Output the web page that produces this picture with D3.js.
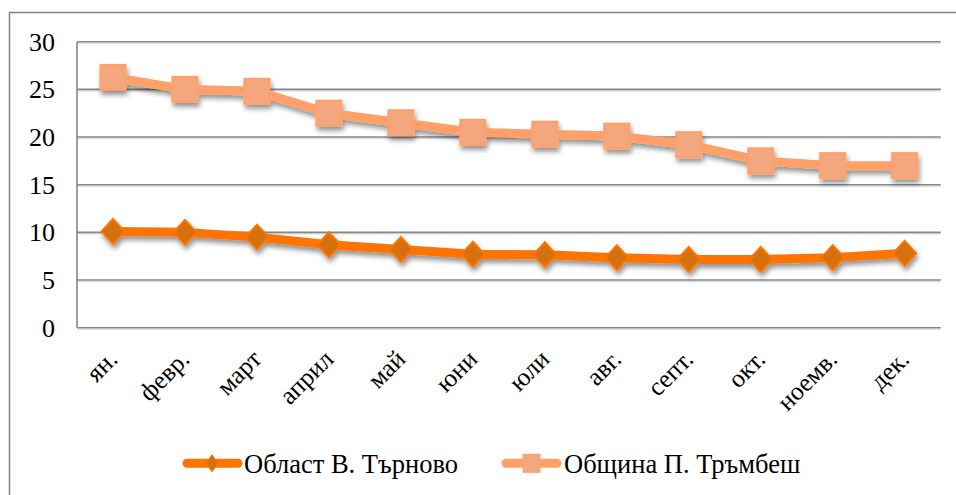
<!DOCTYPE html>
<html><head><meta charset="utf-8">
<script src="https://cdn.jsdelivr.net/npm/d3@7/dist/d3.min.js"></script>
<style>
html,body{margin:0;padding:0;background:#fff;}
svg{display:block;}
text{font-family:"Liberation Serif","Times New Roman",serif;fill:#000;}
</style></head>
<body>
<script>
const categories = ["ян.","февр.","март","април","май","юни","юли","авг.","септ.","окт.","ноемв.","дек."];
const oblast = [10.1, 10.0, 9.5, 8.7, 8.2, 7.7, 7.65, 7.35, 7.15, 7.15, 7.35, 7.8];
const trumbesh = [26.25, 25.0, 24.8, 22.5, 21.5, 20.5, 20.3, 20.1, 19.2, 17.5, 17.0, 17.0];
const yTicks = [0, 5, 10, 15, 20, 25, 30];
const seriesNames = ["Област В. Търново", "Община П. Тръмбеш"];

const W = 956, H = 495;
const plot = {left: 77, right: 940.7, top: 41.7, bottom: 327.7};

const svg = d3.select("body").append("svg").attr("width", W).attr("height", H);
const defs = svg.append("defs");
const f = defs.append("filter").attr("id","shadow").attr("x","-20%").attr("y","-50%").attr("width","140%").attr("height","200%");
f.append("feDropShadow").attr("dx",1.5).attr("dy",4).attr("stdDeviation",2.4)
  .attr("flood-color","#000").attr("flood-opacity",0.42);

// outer border
svg.append("rect").attr("x",9.5).attr("y",12.5).attr("width",970).attr("height",520)
  .attr("fill","none").attr("stroke","#8a8a8a").attr("stroke-width",1.6);

const x = d3.scaleBand().domain(categories).range([plot.left, plot.right]);
const y = d3.scaleLinear().domain([0,30]).range([plot.bottom, plot.top]);
const cx = d => x(d) + x.bandwidth()/2;

// gridlines
const grid = svg.append("g");
yTicks.forEach(t => {
  grid.append("line").attr("x1",plot.left).attr("x2",plot.right)
    .attr("y1",y(t)+1.6).attr("y2",y(t)+1.6).attr("stroke","#dcdcdc").attr("stroke-width",1.2);
  grid.append("line").attr("x1",plot.left).attr("x2",plot.right)
    .attr("y1",y(t)).attr("y2",y(t)).attr("stroke","#868686").attr("stroke-width",1.6);
});
grid.append("line").attr("x1",plot.left).attr("x2",plot.left)
  .attr("y1",plot.top).attr("y2",plot.bottom).attr("stroke","#868686").attr("stroke-width",1.6);

// y axis labels
const yAxis = d3.axisLeft(y).tickValues(yTicks).tickSize(0).tickPadding(22);
const yg = svg.append("g").attr("transform",`translate(${plot.left},0)`).call(yAxis);
yg.select(".domain").remove();
yg.selectAll("text").attr("font-size","26px").attr("font-family","Liberation Serif").attr("fill","#000");

// x axis labels
const xAxis = d3.axisBottom(x).tickSize(0).tickPadding(0);
const xg = svg.append("g").attr("transform",`translate(0,${plot.bottom})`).call(xAxis);
xg.select(".domain").remove();
xg.selectAll(".tick text")
  .attr("font-size","25.5px").attr("font-family","Liberation Serif").attr("fill","#000")
  .attr("text-anchor","end").attr("dy",0).attr("y",0)
  .attr("transform","translate(6,33) rotate(-45)");

const line = d3.line().x((d,i)=>cx(categories[i])).y(d=>y(d));

const colors = {
  oblastLine: "#ff7300", oblastFill: "#d46f0a",
  trLine: "#ffa068", trFill: "#f4a77e"
};

const diamond = (w,h) => `M0,${-h}L${w},0L0,${h}L${-w},0Z`;

// Oblast series
const g1 = svg.append("g").attr("filter","url(#shadow)");
g1.append("path").datum(oblast).attr("d",line).attr("fill","none")
  .attr("stroke",colors.oblastLine).attr("stroke-width",9).attr("stroke-linejoin","round");
g1.selectAll("path.m").data(oblast).join("path").attr("class","m")
  .attr("transform",(d,i)=>`translate(${cx(categories[i])},${y(d)})`)
  .attr("d",diamond(11.5,12.5)).attr("fill",colors.oblastFill)
  .attr("stroke",colors.oblastLine).attr("stroke-width",2);

// Trumbesh series
const g2 = svg.append("g").attr("filter","url(#shadow)");
g2.append("path").datum(trumbesh).attr("d",line).attr("fill","none")
  .attr("stroke",colors.trLine).attr("stroke-width",9).attr("stroke-linejoin","round");
g2.selectAll("rect.m").data(trumbesh).join("rect").attr("class","m")
  .attr("x",(d,i)=>cx(categories[i])-12.5).attr("y",d=>y(d)-12.5)
  .attr("width",25).attr("height",25).attr("fill",colors.trFill)
  .attr("stroke",colors.trLine).attr("stroke-width",2);

// legend
const ly = 463.3;
const leg = svg.append("g");
leg.append("line").attr("x1",187).attr("x2",238).attr("y1",ly).attr("y2",ly)
  .attr("stroke",colors.oblastLine).attr("stroke-width",9).attr("stroke-linecap","round");
leg.append("path").attr("transform",`translate(212,${ly})`).attr("d",diamond(6,8.5))
  .attr("fill",colors.oblastFill).attr("stroke",colors.oblastLine).attr("stroke-width",1);
leg.append("text").attr("x",244).attr("y",ly).attr("dy","0.35em").attr("font-size","26.5px")
  .text(seriesNames[0]);

leg.append("line").attr("x1",506).attr("x2",557).attr("y1",ly).attr("y2",ly)
  .attr("stroke",colors.trLine).attr("stroke-width",9).attr("stroke-linecap","round");
leg.append("rect").attr("x",523).attr("y",ly-9).attr("width",17).attr("height",18)
  .attr("fill",colors.trFill).attr("stroke",colors.trLine).attr("stroke-width",1);
leg.append("text").attr("x",564).attr("y",ly).attr("dy","0.35em").attr("font-size","26.5px")
  .text(seriesNames[1]);
</script>
</body></html>
